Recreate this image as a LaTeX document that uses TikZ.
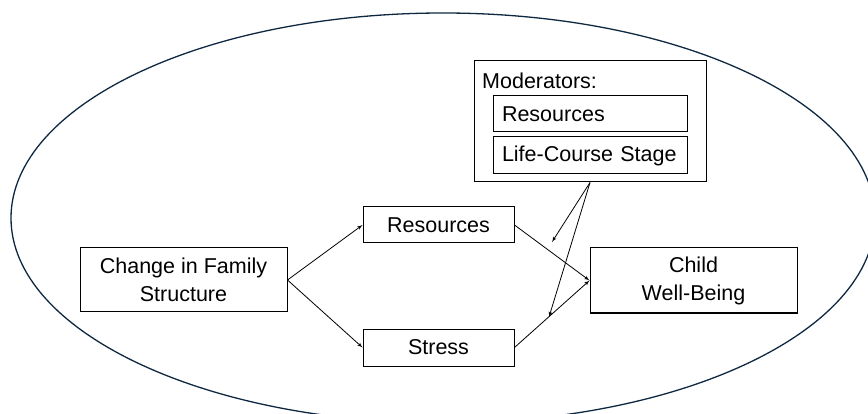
\documentclass[tikz,border=0pt]{standalone}
\usepackage{fontspec}
\setmainfont{Liberation Sans}
\usepackage{tikz}
\usetikzlibrary{shapes,arrows,calc}
\definecolor{ovalblue}{HTML}{0E2841}
\tikzstyle{line} = [draw, -latex', line width=0.8pt]
\tikzstyle{block} = [draw, rectangle, text centered, inner sep=0pt, line width=1pt, font=\fontsize{21.5}{28}\selectfont]
\tikzstyle{modbox} = [block, minimum width=194pt, minimum height=36pt, text width=176pt, align=left]

\begin{document}
\begin{tikzpicture}[x=1pt, y=-1pt]
        \useasboundingbox (0,0) rectangle (868,414);
        \clip (0,0) rectangle (868,414);
        % outer oval
        \draw[ovalblue, line width=1.3pt] (443,218) ellipse [x radius=432, y radius=205];
        % main path
        \node[block, minimum width=207pt, minimum height=64pt, align=center] (change) at (183.5,280) {Change in Family\\Structure};
        \node[block, minimum width=151pt, minimum height=36pt] (res) at (438.5,225) {Resources};
        \node[block, minimum width=151pt, minimum height=37pt] (stress) at (438.5,347.5) {Stress};
        \node[block, minimum width=207pt, minimum height=65pt, align=center] (child) at (693.5,280.5) {Child\\Well-Being};
        % moderators
        \node[block, minimum width=232pt, minimum height=121pt] (mod) at (590,121.5) {};
        \node[anchor=west, inner sep=0pt, font=\fontsize{21.5}{28}\selectfont] (modlabel) at (482,81) {Moderators:};
        \node[modbox] (modres) at (590,114) {Resources};
        \node[modbox, minimum height=37pt] (modstage) at (590,155.5) {Life-Course Stage};
        \coordinate (tipres) at (552,242);
        \coordinate (tipstress) at (549,317);
        \path[line] (change.east) -- (res.west);
        \path[line] (change.east) -- (stress.west);
        \path[line] (res.east) -- (child.west);
        \path[line] (stress.east) -- (child.west);
        \path[line] (mod.south) -- (tipres);
        \path[line] (mod.south) -- (tipstress);
    \end{tikzpicture}
\end{document}
